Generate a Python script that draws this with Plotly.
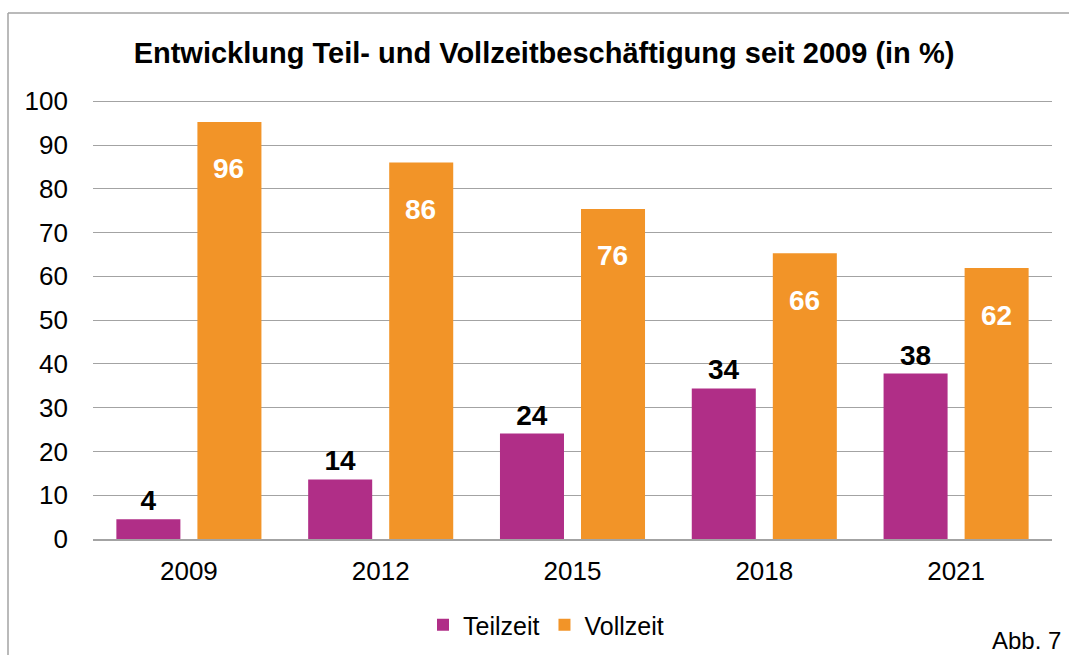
import plotly.graph_objects as go

years = ["2009", "2012", "2015", "2018", "2021"]
teilzeit = [4.5, 13.6, 24.1, 34.4, 37.8]
vollzeit = [95.3, 86.0, 75.4, 65.3, 61.9]
teilzeit_labels = ["4", "14", "24", "34", "38"]
vollzeit_labels = ["96", "86", "76", "66", "62"]
y_ticks = list(range(0, 101, 10))

PURPLE = "#B02E87"
ORANGE = "#F29428"
GRID = "#A3A3A3"
FONT = "Liberation Sans, Arial, sans-serif"

W, H = 1069, 655
L, R, T, B = 93, 17, 100, 116
pw = W - L - R
ph = H - T - B

fig = go.Figure()
fig.add_trace(go.Bar(
    x=years, y=teilzeit, name="Teilzeit", marker=dict(color=PURPLE, line=dict(width=0)),
    text=teilzeit_labels, textposition="outside", cliponaxis=False,
    textfont=dict(family=FONT, size=28, color="black", weight="bold"),
))
fig.add_trace(go.Bar(
    x=years, y=vollzeit, name="Vollzeit", marker=dict(color=ORANGE, line=dict(width=0)),
    textposition="none",
))

# category index positions for the Vollzeit labels (inside bars, below the top)
for i, (v, lab) in enumerate(zip(vollzeit, vollzeit_labels)):
    fig.add_annotation(
        x=i, y=v, xref="x", yref="y", text=f"<b>{lab}</b>", showarrow=False,
        xshift=40, yshift=-47, yanchor="middle",
        font=dict(family=FONT, size=28, color="white"),
    )

fig.add_annotation(
    text="Abb. 7", xref="paper", yref="paper",
    x=(1063 - L) / pw, y=(H - B - 640) / ph, xanchor="right", yanchor="middle",
    showarrow=False, font=dict(family=FONT, size=24, color="black"),
)

# frame (top and left edges)
x_left = (8 - L) / pw
y_top = (H - B - 13) / ph
y_bottom = (H - B - H - 5) / ph
x_right = (W + 5 - L) / pw
fig.add_shape(type="line", xref="paper", yref="paper", x0=x_left, x1=x_right, y0=y_top, y1=y_top,
              line=dict(color=GRID, width=1.5))
fig.add_shape(type="line", xref="paper", yref="paper", x0=x_left, x1=x_left, y0=y_top, y1=y_bottom,
              line=dict(color=GRID, width=1.5))

fig.update_layout(
    width=W, height=H,
    margin=dict(l=L, r=R, t=T, b=B, pad=0, autoexpand=False),
    paper_bgcolor="white", plot_bgcolor="white",
    barmode="group", bargap=0.155, bargroupgap=0.21,
    font=dict(family=FONT, color="black"),
    title=dict(
        text="<b>Entwicklung Teil- und Vollzeitbeschäftigung seit 2009 (in %)</b>",
        x=544 / W, xanchor="center", y=1 - 53 / H, yanchor="middle",
        font=dict(family=FONT, size=29, color="black"),
    ),
    showlegend=True,
    legend=dict(
        orientation="h", xref="container", yref="container",
        x=546 / W, xanchor="center", y=1 - 625 / H, yanchor="middle",
        font=dict(family=FONT, size=25, color="black"),
        itemwidth=30, tracegroupgap=0,
    ),
)
fig.update_xaxes(
    type="category", range=[-0.5, len(years) - 0.5], autorange=False, automargin=False,
    showgrid=False, showline=True, linecolor=GRID, linewidth=1.5,
    ticks="", tickfont=dict(family=FONT, size=26, color="black"),
    ticklabelstandoff=8,
)
fig.update_yaxes(
    range=[0, 100.3], tickvals=y_ticks, showgrid=True, gridcolor=GRID, gridwidth=1.4,
    zeroline=False, showline=False, ticks="", automargin=False,
    tickfont=dict(family=FONT, size=26, color="black"),
    ticklabelstandoff=24,
)

fig.write_html("out.html", config={"displayModeBar": False},
               post_script="document.body.style.margin='0';")
